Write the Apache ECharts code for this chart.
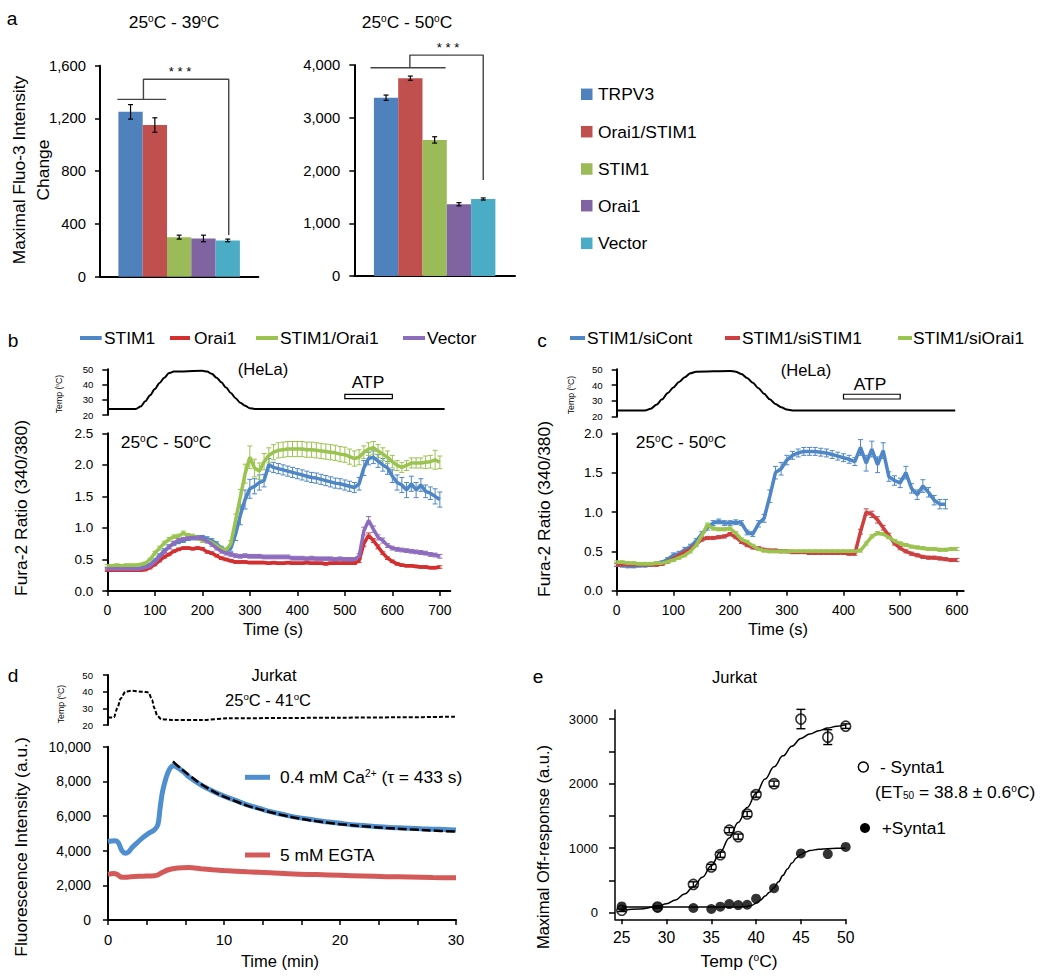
<!DOCTYPE html>
<html><head><meta charset="utf-8">
<script src="https://cdn.jsdelivr.net/npm/echarts@6/dist/echarts.min.js"></script>
<style>html,body{margin:0;padding:0;background:#fff}#c{width:1050px;height:979px}</style>
</head><body><div id="c"></div>
<script>
// ================= DATA =================
// panel a
const barSeriesNames = ['TRPV3','Orai1/STIM1','STIM1','Orai1','Vector'];
const bar39Values = [1250,1150,300,290,275];
const bar39Errors = [55,55,15,25,10];
const bar50Values = [3380,3750,2580,1360,1460];
const bar50Errors = [50,40,60,30,20];
const bar39Ticks = [0,400,800,1200,1600];
const bar50Ticks = [0,1000,2000,3000,4000];

// panel b (time in s)
const bTime = [0,10,20,30,40,50,60,70,80,90,100,110,120,130,140,150,160,170,180,190,200,210,220,230,240,250,260,270,280,290,300,310,320,330,340,350,360,370,380,390,400,410,420,430,440,450,460,470,480,490,500,510,520,530,540,550,560,570,580,590,600,610,620,630,640,650,660,670,680,690,700];
const bSTIM1 = [.35,.35,.35,.35,.35,.35,.35,.36,.38,.42, .48,.56,.64,.70,.75,.78,.80,.83,.84,.85, .85,.83,.80,.75,.68,.64,.68,.90,1.20,1.45, 1.62,1.66,1.72,1.75,2.00,1.96,1.94,1.92,1.90,1.88, 1.86,1.84,1.82,1.80,1.79,1.77,1.75,1.73,1.71,1.70, 1.68,1.66,1.64,1.70,1.95,2.10,2.12,2.06,2.00,1.95, 1.82,1.72,1.68,1.60,1.70,1.60,1.68,1.58,1.55,1.50, 1.45];
const bSTIM1Err = [.02,.02,.02,.02,.02,.02,.02,.02,.02,.02, .03,.03,.03,.03,.03,.03,.03,.03,.03,.03, .03,.03,.03,.03,.03,.03,.05,.10,.15,.15, .15,.12,.12,.10,.10,.08,.08,.08,.08,.08, .08,.08,.08,.08,.08,.08,.08,.08,.08,.08, .08,.08,.08,.10,.12,.10,.10,.10,.10,.10, .10,.12,.12,.12,.12,.12,.10,.10,.10,.12, .12];
const bOrai1 = [.33,.33,.33,.33,.33,.33,.33,.33,.34,.37, .42,.48,.54,.58,.63,.66,.68,.68,.67,.68, .67,.62,.60,.56,.52,.50,.48,.46,.46,.46, .45,.45,.45,.45,.44,.45,.44,.44,.45,.44, .44,.44,.45,.44,.44,.44,.43,.44,.44,.44, .44,.44,.44,.48,.75,.88,.80,.70,.60,.52, .47,.43,.41,.40,.40,.39,.38,.38,.37,.37, .38];
const bOrai1Err = [.02,.02,.02,.02,.02,.02,.02,.02,.02,.02, .02,.02,.02,.02,.02,.02,.02,.02,.02,.02, .02,.02,.02,.02,.02,.02,.02,.02,.02,.02, .02,.02,.02,.02,.02,.02,.02,.02,.02,.02, .02,.02,.02,.02,.02,.02,.02,.02,.02,.02, .02,.02,.02,.03,.04,.04,.03,.03,.02,.02, .02,.02,.02,.02,.02,.02,.02,.02,.02,.02, .02];
const bSTIM1Orai1 = [.40,.40,.41,.40,.41,.41,.41,.42,.44,.50, .60,.68,.76,.82,.86,.87,.92,.88,.87,.84, .80,.80,.77,.72,.67,.65,.75,1.12,1.49,1.86, 2.12,1.95,1.90,2.05,2.15,2.20,2.23,2.24,2.25,2.25, 2.25,2.25,2.24,2.24,2.23,2.22,2.21,2.20,2.19,2.17, 2.16,2.13,2.10,2.12,2.20,2.25,2.27,2.22,2.17,2.12, 2.05,1.99,1.96,1.99,2.03,2.03,2.03,2.04,2.05,2.08, 2.04];
const bSTIM1Orai1Err = [.02,.02,.02,.02,.02,.02,.02,.02,.02,.02, .03,.03,.03,.03,.03,.03,.03,.03,.03,.03, .03,.03,.03,.03,.03,.03,.05,.10,.12,.15, .18,.14,.13,.13,.12,.12,.12,.12,.12,.12, .12,.12,.12,.12,.12,.12,.12,.12,.12,.12, .12,.12,.12,.12,.10,.10,.10,.10,.10,.10, .10,.08,.08,.08,.08,.08,.08,.10,.10,.15, .10];
const bVector = [.35,.35,.35,.35,.35,.35,.35,.35,.37,.40, .46,.54,.62,.70,.76,.80,.82,.84,.85,.84, .83,.79,.74,.68,.63,.60,.58,.56,.55,.56, .55,.55,.55,.54,.54,.54,.54,.54,.54,.52, .52,.52,.51,.52,.51,.51,.51,.51,.50,.51, .50,.50,.50,.55,.95,1.12,.98,.85,.80,.72, .68,.66,.65,.64,.63,.62,.61,.60,.58,.57, .55];
const bVectorErr = [.02,.02,.02,.02,.02,.02,.02,.02,.02,.02, .03,.03,.03,.03,.03,.03,.03,.03,.03,.03, .03,.03,.03,.03,.03,.03,.03,.03,.03,.03, .03,.03,.03,.03,.03,.03,.03,.03,.03,.03, .03,.03,.03,.03,.03,.03,.03,.03,.03,.03, .03,.03,.03,.04,.06,.06,.05,.04,.04,.03, .03,.03,.03,.03,.03,.03,.03,.03,.03,.03, .03];
const bTempTime = [0,60,70,80,90,100,110,120,130,140,200,210,220,230,240,250,260,270,280,290,300,310,710];
const bTemp = [24,24,25.5,29,33,37,41,44.5,47.5,48.5,49,48.5,47,44.5,41.5,38,34.5,31,28,26,24.5,24,24];
const bATP = [500,600,30.7,33.6];
const bXTicks = [0,100,200,300,400,500,600,700];

// panel c
const cTime = [0,10,20,30,40,50,60,70,80,90,100,110,120,130,140,150,160,170,180,190,200,210,220,230,240,250,260,270,280,290,300,310,320,330,340,350,360,370,380,390,400,410,420,430,440,450,460,470,480,490,500,510,520,530,540,550,560,570,580,590,600];
const cSiCont = [.33,.32,.31,.31,.32,.32,.33,.34,.36,.40, .45,.47,.52,.56,.63,.72,.80,.86,.88,.86, .86,.87,.86,.74,.72,.85,.92,1.20,1.50,1.55, 1.66,1.72,1.75,1.77,1.77,1.77,1.76,1.75,1.73,1.71, 1.69,1.67,1.64,1.82,1.62,1.80,1.60,1.78,1.45,1.40, 1.37,1.50,1.30,1.22,1.33,1.25,1.15,1.10,1.10,null, null];
const cSiContErr = [.02,.02,.02,.02,.02,.02,.02,.02,.02,.02, .03,.03,.03,.03,.03,.03,.03,.03,.03,.03, .03,.03,.03,.03,.03,.04,.05,.08,.08,.08, .06,.05,.05,.05,.05,.05,.05,.05,.05,.05, .05,.05,.05,.10,.10,.10,.10,.10,.06,.06, .06,.08,.06,.06,.08,.06,.06,.06,.06,null, null];
const cSiSTIM1 = [.33,.33,.33,.33,.33,.33,.33,.33,.34,.37, .41,.45,.49,.53,.59,.65,.67,.67,.68,.69, .72,.68,.62,.58,.55,.54,.52,.51,.51,.50, .50,.49,.49,.49,.48,.48,.48,.48,.48,.48, .48,.47,.47,.75,1.00,.97,.90,.80,.70,.60, .54,.50,.47,.45,.43,.42,.42,.41,.40,.39, .39];
const cSiSTIM1Err = [.02,.02,.02,.02,.02,.02,.02,.02,.02,.02, .02,.02,.02,.02,.02,.02,.02,.02,.02,.02, .02,.02,.02,.02,.02,.02,.02,.02,.02,.02, .02,.02,.02,.02,.02,.02,.02,.02,.02,.02, .02,.02,.02,.03,.04,.04,.04,.03,.03,.02, .02,.02,.02,.02,.02,.02,.02,.02,.02,.02, .02];
const cSiOrai1 = [.36,.36,.35,.35,.34,.34,.34,.35,.35,.37, .39,.42,.45,.50,.58,.70,.84,.79,.78,.78, .79,.73,.65,.62,.57,.53,.51,.50,.50,.50, .50,.50,.50,.50,.50,.50,.50,.50,.50,.50, .50,.50,.50,.51,.60,.69,.73,.72,.68,.63, .60,.58,.56,.55,.54,.53,.53,.52,.52,.53, .53];
const cSiOrai1Err = [.02,.02,.02,.02,.02,.02,.02,.02,.02,.02, .02,.02,.02,.02,.02,.02,.02,.02,.02,.02, .02,.02,.02,.02,.02,.02,.02,.02,.02,.02, .02,.02,.02,.02,.02,.02,.02,.02,.02,.02, .02,.02,.02,.02,.02,.02,.02,.02,.02,.02, .02,.02,.02,.02,.02,.02,.02,.02,.02,.02, .02];
const cTempTime = [0,50,60,70,80,90,100,110,120,130,140,200,210,220,230,240,250,260,270,280,290,300,310,597];
const cTemp = [24,24,25,27.5,31,35,38.5,42,45,47.5,48.5,49,48.5,47,44.5,41.5,38,34.5,31,28,26,24.5,24,24];
const cATP = [400,500,31.2,34.2];
const cXTicks = [0,100,200,300,400,500,600];

// panel d (time in min)
const dCaTime = [0,0.3,0.6,0.9,1.2,1.5,1.8,2.1,2.5,3,3.5,4,4.3,4.5,4.7,5,5.3,5.6,6,6.5,7,8,9,10,11,12,13,14,15,16,17,18,19,20,21,22,23,24,25,26,27,28,29,30];
const dCa = [4520,4560,4580,4450,4000,3850,3950,4200,4450,4750,5000,5200,5500,6500,7400,8200,8700,8900,8800,8550,8250,7800,7450,7150,6900,6650,6450,6250,6100,5950,5850,5750,5650,5580,5500,5450,5400,5350,5320,5290,5260,5240,5220,5200];
const dFitTime = [5.6,6,7,8,9,10,11,12,13,14,15,16,17,18,19,20,22,24,26,28,30];
const dFit = [9150,8900,8350,7850,7450,7120,6850,6600,6400,6220,6060,5920,5800,5700,5610,5530,5410,5310,5230,5160,5100];
const dEgtaTime = [0,0.5,0.8,1.1,1.5,2,3,4,4.3,4.7,5.2,6,7,8,9,10,12,14,16,18,20,22,24,26,28,30];
const dEgta = [2640,2680,2620,2480,2460,2500,2530,2560,2600,2750,2900,3000,3030,2960,2900,2850,2780,2720,2650,2620,2580,2540,2500,2480,2450,2440];
const dTempTime = [0,0.5,0.8,1.1,1.5,2,3,3.5,3.8,4,4.25,4.6,5.5,8,10.4,15,20,25,30];
const dTemp = [24.5,24.5,30,36,40,40.5,40,39.5,35,30,25.5,23.5,23,23,24,24.2,24.4,24.6,25];
const dXTicks = [0,10/3,20/3,10,40/3,50/3,20,70/3,80/3,30];
const dXLabels = [0,10,20,30];

// panel e
const eTemps = [25,29,33,35,36,37,38,39,40,42,45,48,50];
const eControl = [40,90,440,710,900,1280,1180,1530,1830,2000,3000,2720,2890];
const eControlErr = [20,20,40,40,40,40,40,40,40,40,150,115,35];
const eSynta = [100,85,75,60,95,135,120,125,220,380,920,910,1020];
const eFitTemps = [25,27,29,30,31,32,33,34,35,36,37,38,39,40,41,42,43,44,45,46,47,48,49,50];
const eControlFit = [40,60,100,140,200,290,400,550,730,940,1160,1400,1630,1850,2070,2260,2430,2580,2700,2770,2820,2860,2890,2910];
const eSyntaFitTemps = [25,30,35,38,39,39.5,40,40.5,41,41.5,42,42.5,43,43.5,44,44.5,45,45.5,46,47,48,49,50];
const eSyntaFit = [90,90,90,92,100,115,150,200,260,320,390,480,580,680,770,850,905,940,965,985,993,998,1000];
const eXTicks = [25,30,35,40,45,50];
const eYTicks = [0,500,1000,1500,2000,2500,3000];
const eYLabels = [0,1000,2000,3000];

// ================= STYLE =================
function hasFont(name){
  const c = document.createElement('canvas').getContext('2d');
  const s = 'abcdefghijklmnopqrstuvwxyz0123456789ABCDEFGHIJ';
  c.font = '40px monospace'; const w0 = c.measureText(s).width;
  c.font = "40px '" + name + "', monospace"; return Math.abs(c.measureText(s).width - w0) > 0.5;
}
const NARROW = hasFont('Liberation Sans Narrow');
const FF = NARROW ? "'Liberation Sans Narrow','Liberation Sans',Arial,sans-serif" : "'Liberation Sans',Arial,sans-serif";
const K = NARROW ? 1 : 0.87;
function fs(n){ return Math.round(n*K*10)/10; }

const barColors = ['#4F81BD','#C0504D','#9BBB59','#8064A2','#4BACC6'];
const bColors = {stim1:'#4f86c6', orai1:'#d32f2f', both:'#9bc350', vector:'#8d6cbe'};
const cColors = {cont:'#4f86c6', sistim:'#cc4040', siorai:'#9bc350'};
const dColors = {ca:'#4f8fd0', egta:'#d45a5a'};

const zip = (xs, ys) => xs.map((x,i)=>[x, ys[i]]).filter(p=>p[1]!=null);
const zip3 = (xs, ys, es) => xs.map((x,i)=>[x, ys[i], es[i]]).filter(p=>p[1]!=null);
const BAR0 = 2; // bar i is drawn at x = i + BAR0 on the hidden-tick value axis of panel a

const axLine = (w) => ({show:true, onZero:false, lineStyle:{color:'#000', width:w||2}});
function yAx(o){
  return Object.assign({type:'value', position:'left', splitLine:{show:false}, axisLine:axLine(2),
    axisTick:{show:true, inside:false, length:5, lineStyle:{color:'#000', width:1.5}},
    axisLabel:{show:true, color:'#000', fontFamily:FF, fontSize:fs(o.fsz||15), margin:o.margin||14, formatter:o.fmt || (v=>String(v))}}, o.base);
}

function errSeries(xi, yi, data, color, cap, width, z){
  return {type:'custom', xAxisIndex:xi, yAxisIndex:yi, data:data.map(d=>[d[0], d[1]]), silent:true, clip:false, z:z||2,
    renderItem:(p, api)=>{
      const d = data[p.dataIndex];
      const t = api.coord([d[0], d[1]+d[2]]), b = api.coord([d[0], d[1]-d[2]]);
      const st = {stroke:color, lineWidth:width};
      return {type:'group', children:[
        {type:'line', shape:{x1:t[0], y1:t[1], x2:b[0], y2:b[1]}, style:st},
        {type:'line', shape:{x1:t[0]-cap, y1:t[1], x2:t[0]+cap, y2:t[1]}, style:st},
        {type:'line', shape:{x1:b[0]-cap, y1:b[1], x2:b[0]+cap, y2:b[1]}, style:st}
      ]};
    }};
}
function lineSeries(xi, yi, data, color, width, extra){
  return Object.assign({type:'line', xAxisIndex:xi, yAxisIndex:yi, data, symbol:'none', showSymbol:false,
    lineStyle:{color, width}, itemStyle:{color}, silent:true, z:3}, extra||{});
}
function boxSeries(xi, yi, box){
  return {type:'custom', xAxisIndex:xi, yAxisIndex:yi, data:[[box[0], box[2]]], silent:true, clip:false, z:4,
    renderItem:(p, api)=>{
      const a = api.coord([box[0], box[3]]), b = api.coord([box[1], box[2]]);
      return {type:'rect', shape:{x:a[0], y:a[1], width:b[0]-a[0], height:b[1]-a[1]}, style:{fill:'#fff', stroke:'#000', lineWidth:1.2}};
    }};
}

// ================= AXES / GRIDS =================
const grids = [
  {left:100, top:65.7, width:158.3, height:211},      // 0 a-left
  {left:354.3, top:65, width:160.7, height:211},      // 1 a-right
  {left:107.3, top:369.3, width:343, height:45.7},    // 2 b-temp
  {left:107.3, top:433.3, width:343, height:157.7},   // 3 b-main
  {left:616.7, top:369.3, width:347, height:47.4},    // 4 c-temp
  {left:616.7, top:433.3, width:347, height:157.4},   // 5 c-main
  {left:108, top:675, width:348, height:50},          // 6 d-temp
  {left:108, top:746.7, width:348, height:173.3},     // 7 d-main
  {left:615, top:710, width:230.7, height:209.3}      // 8 e
].map(g=>Object.assign({containLabel:false, outerBoundsMode:'none'}, g));

const barXAxis = (gi, min, max) => ({gridIndex:gi, type:'value', min, max, splitLine:{show:false}, axisLine:axLine(2), axisTick:{show:false}, axisLabel:{show:false}});
const xAxes = [
  barXAxis(0, BAR0-1.257, BAR0+5.257),
  barXAxis(1, BAR0-1.307, BAR0+5.307),
  {gridIndex:2, type:'value', min:0, max:722, show:false},
  {gridIndex:3, type:'value', min:0, max:722, splitLine:{show:false}, axisLine:axLine(2),
    axisTick:{show:true, length:5, lineStyle:{color:'#000', width:1.5}, customValues:bXTicks},
    axisLabel:{color:'#000', fontFamily:FF, fontSize:fs(16), margin:12, customValues:bXTicks}},
  {gridIndex:4, type:'value', min:0, max:612, show:false},
  {gridIndex:5, type:'value', min:0, max:612, splitLine:{show:false}, axisLine:axLine(2),
    axisTick:{show:true, length:5, lineStyle:{color:'#000', width:1.5}, customValues:cXTicks},
    axisLabel:{color:'#000', fontFamily:FF, fontSize:fs(16), margin:12, customValues:cXTicks}},
  {gridIndex:6, type:'value', min:0, max:30, show:false},
  {gridIndex:7, type:'value', min:0, max:30, splitLine:{show:false}, axisLine:axLine(2),
    axisTick:{show:true, length:5, lineStyle:{color:'#000', width:1.5}, customValues:dXTicks},
    axisLabel:{color:'#000', fontFamily:FF, fontSize:fs(17), margin:12, customValues:dXLabels, formatter:v=>String(Math.round(v))}},
  {gridIndex:8, type:'value', min:24.25, max:50, splitLine:{show:false}, axisLine:axLine(1.5),
    axisTick:{show:true, length:5, lineStyle:{color:'#000', width:1.5}, customValues:eXTicks},
    axisLabel:{color:'#000', fontFamily:FF, fontSize:fs(18), margin:10, customValues:eXTicks, formatter:v=>String(v)}}
];
const comma = v => Number(v).toLocaleString('en-US');
const yAxes = [
  yAx({base:{gridIndex:0, min:0, max:1600, interval:400}, fsz:17, margin:14, fmt:comma}),
  yAx({base:{gridIndex:1, min:0, max:4000, interval:1000}, fsz:17, margin:14, fmt:comma}),
  yAx({base:{gridIndex:2, min:20, max:50, interval:10}, fsz:11, margin:14}),
  yAx({base:{gridIndex:3, min:0, max:2.5, interval:0.5}, fsz:15.5, margin:14, fmt:v=>v.toFixed(1)}),
  yAx({base:{gridIndex:4, min:20, max:50, interval:10}, fsz:11, margin:14}),
  yAx({base:{gridIndex:5, min:0, max:2.0, interval:0.5}, fsz:15.5, margin:14, fmt:v=>v.toFixed(1)}),
  yAx({base:{gridIndex:6, min:20, max:50, interval:10}, fsz:11, margin:15}),
  yAx({base:{gridIndex:7, min:0, max:10000, interval:2000}, fsz:16, margin:17, fmt:comma}),
  Object.assign(yAx({base:{gridIndex:8, min:-100, max:3140}, fsz:15, margin:17}), {
    axisLine:axLine(1.5),
    axisTick:{show:true, length:6, lineStyle:{color:'#000', width:1.5}, customValues:eYTicks},
    axisLabel:{color:'#000', fontFamily:FF, fontSize:fs(15), margin:17, customValues:eYLabels, formatter:v=>String(v)}})
];

// ================= SERIES =================
const series = [];
// a : one bar series per panel, bar i centred at x = i + BAR0
const barItems = vals => vals.map((v,i)=>({name:barSeriesNames[i], value:[i+BAR0, v], itemStyle:{color:barColors[i]}}));
series.push({type:'bar', name:'25-39', xAxisIndex:0, yAxisIndex:0, data:barItems(bar39Values), barWidth:24.3, silent:true, z:2});
series.push({type:'bar', name:'25-50', xAxisIndex:1, yAxisIndex:1, data:barItems(bar50Values), barWidth:24.3, silent:true, z:2});
series.push(errSeries(0, 0, bar39Values.map((v,i)=>[i+BAR0, v, bar39Errors[i]]), '#000', 2.5, 1.2, 5));
series.push(errSeries(1, 1, bar50Values.map((v,i)=>[i+BAR0, v, bar50Errors[i]]), '#000', 2.5, 1.2, 5));
series.push(lineSeries(0, 0, [[BAR0-0.54,1345],[BAR0+1.46,1345]], '#444', 1.4, {clip:false}));
series.push(lineSeries(0, 0, [[BAR0+0.53,1345],[BAR0+0.53,1497],[BAR0+4.04,1497],[BAR0+4.04,316]], '#444', 1.4, {clip:false}));
series.push(lineSeries(1, 1, [[BAR0-0.64,3947],[BAR0+2.45,3947]], '#444', 1.4, {clip:false}));
series.push(lineSeries(1, 1, [[BAR0+0.98,3947],[BAR0+0.98,4188],[BAR0+4.0,4188],[BAR0+4.0,1822]], '#444', 1.4, {clip:false}));

// b
const tempStyle = {smooth:0.3, smoothMonotone:'x'};
series.push(lineSeries(2, 2, zip(bTempTime, bTemp), '#000', 2, tempStyle));
series.push(boxSeries(2, 2, bATP));
[[bSTIM1, bSTIM1Err, bColors.stim1],[bOrai1, bOrai1Err, bColors.orai1],[bSTIM1Orai1, bSTIM1Orai1Err, bColors.both],[bVector, bVectorErr, bColors.vector]].forEach(([v,e,c])=>{
  series.push(errSeries(3, 3, zip3(bTime, v, e), c, 2.5, 1, 2));
  series.push(lineSeries(3, 3, zip(bTime, v), c, 3.5));
});
// c
series.push(lineSeries(4, 4, zip(cTempTime, cTemp), '#000', 2, tempStyle));
series.push(boxSeries(4, 4, cATP));
[[cSiCont, cSiContErr, cColors.cont],[cSiSTIM1, cSiSTIM1Err, cColors.sistim],[cSiOrai1, cSiOrai1Err, cColors.siorai]].forEach(([v,e,c])=>{
  series.push(errSeries(5, 5, zip3(cTime, v, e), c, 2.5, 1, 2));
  series.push(lineSeries(5, 5, zip(cTime, v), c, 3.5));
});
// d
series.push(lineSeries(6, 6, zip(dTempTime, dTemp), '#000', 2, {smooth:0.3, smoothMonotone:'x', lineStyle:{color:'#000', width:2, type:[4,2]}}));
series.push(lineSeries(7, 7, zip(dCaTime, dCa), dColors.ca, 5, {smooth:0.3}));
series.push(lineSeries(7, 7, zip(dEgtaTime, dEgta), dColors.egta, 5, {smooth:0.3}));
series.push(lineSeries(7, 7, zip(dFitTime, dFit), '#000', 2.5, {smooth:0.4, z:4, lineStyle:{color:'#000', width:2.5, type:[9,3]}}));
// e
series.push(lineSeries(8, 8, zip(eFitTemps, eControlFit), '#000', 1.5, {smooth:0.4, smoothMonotone:'x'}));
series.push(lineSeries(8, 8, zip(eSyntaFitTemps, eSyntaFit), '#000', 1.5, {smooth:0.4, smoothMonotone:'x'}));
series.push({type:'scatter', xAxisIndex:8, yAxisIndex:8, data:zip(eTemps, eSynta), symbol:'circle', symbolSize:10, itemStyle:{color:'#000'}, silent:true, z:5});
series.push({type:'scatter', xAxisIndex:8, yAxisIndex:8, data:zip(eTemps, eControl), symbol:'circle', symbolSize:10, itemStyle:{color:'rgba(255,255,255,0)', borderColor:'#000', borderWidth:1.6}, silent:true, z:6});
series.push(errSeries(8, 8, zip3(eTemps, eControl, eControlErr), '#000', 4.5, 1.4, 7));

// ================= TEXT / LEGENDS (graphic) =================
const supRich = size => ({s:{fontSize:fs(size*0.58), fontFamily:FF, fill:'#000', verticalAlign:'top'},
                          b:{fontSize:fs(size*0.58), fontFamily:FF, fill:'#000', verticalAlign:'bottom'}});
function T(x, y, text, size, o){
  o = o || {};
  return {type:'text', x, y, rotation:o.rot||0, z:100, silent:true,
    style:{text, fontSize:fs(size), fontFamily:FF, fill:'#000', align:o.align||'center', verticalAlign:'middle',
      textAlign:o.align||'center', textVerticalAlign:'middle', rich:supRich(size)}};
}
const R90 = Math.PI/2;
function L(x1, x2, y, color, w){ return {type:'line', z:100, silent:true, shape:{x1, y1:y, x2, y2:y}, style:{stroke:color, lineWidth:w}}; }
const G = [];
// a
G.push(T(12, 18, 'a', 22));
G.push(T(174, 22, '25{s|o}C - 39{s|o}C', 20));
G.push(T(407, 22, '25{s|o}C - 50{s|o}C', 20));
G.push(T(19, 170, 'Maximal Fluo-3 Intensity', 20, {rot:R90}));
G.push(T(43, 170, 'Change', 20, {rot:R90}));
G.push(T(180, 71, '* * *', 15));
G.push(T(448, 47, '* * *', 15));
const aLegY = [94.3, 131.7, 169, 205.7, 243.3];
barSeriesNames.forEach((n,i)=>{
  G.push({type:'rect', z:100, silent:true, shape:{x:581, y:aLegY[i]-5.75, width:11.5, height:11.5}, style:{fill:barColors[i]}});
  G.push(T(598, aLegY[i], n, 20, {align:'left'}));
});
// b
G.push(T(13, 340, 'b', 22));
[[80,101.7,104,'STIM1',bColors.stim1],[170,190,194,'Orai1',bColors.orai1],[256,278,280,'STIM1/Orai1',bColors.both],[403,425,427,'Vector',bColors.vector]].forEach(([a,b,t,n,c])=>{
  G.push(L(a, b, 338, c, 4)); G.push(T(t, 338, n, 20, {align:'left'}));
});
G.push(T(263, 369, '(HeLa)', 19));
G.push(T(368, 382, 'ATP', 20));
G.push(T(166, 442, '25{s|o}C - 50{s|o}C', 20));
G.push(T(59, 394, 'Temp ({s|o}C)', 10, {rot:R90}));
G.push(T(21, 508, 'Fura-2 Ratio (340/380)', 20, {rot:R90}));
G.push(T(273, 629, 'Time (s)', 19));
// c
G.push(T(542, 340, 'c', 22));
[[570,585,587,'STIM1/siCont',cColors.cont],[725,740,742,'STIM1/siSTIM1',cColors.sistim],[898,912,913,'STIM1/siOrai1',cColors.siorai]].forEach(([a,b,t,n,c])=>{
  G.push(L(a, b, 338, c, 4)); G.push(T(t, 338, n, 20, {align:'left'}));
});
G.push(T(806, 370, '(HeLa)', 19));
G.push(T(870, 383.5, 'ATP', 20));
G.push(T(681, 442, '25{s|o}C - 50{s|o}C', 20));
G.push(T(571, 395, 'Temp ({s|o}C)', 10, {rot:R90}));
G.push(T(544, 509, 'Fura-2 Ratio (340/380)', 20, {rot:R90}));
G.push(T(778, 629, 'Time (s)', 19));
// d
G.push(T(13, 675, 'd', 22));
G.push(T(274, 674.5, 'Jurkat', 19));
G.push(T(268, 700, '25{s|o}C - 41{s|o}C', 19));
G.push(T(61, 704, 'Temp ({s|o}C)', 10, {rot:R90}));
G.push(T(21, 847, 'Fluorescence Intensity (a.u.)', 20, {rot:R90}));
G.push(T(280, 961, 'Time (min)', 19));
G.push(L(245, 270, 777.3, dColors.ca, 5));
G.push(T(280, 777.3, '0.4 mM Ca{s|2+} (\u03c4 = 433 s)', 20, {align:'left'}));
G.push(L(245, 270, 855, dColors.egta, 5));
G.push(T(280, 855, '5 mM EGTA', 20, {align:'left'}));
// e
G.push(T(538, 676, 'e', 22));
G.push(T(734.5, 677, 'Jurkat', 19));
G.push(T(543, 847, 'Maximal Off-response (a.u.)', 19, {rot:R90}));
G.push(T(739, 961, 'Temp ({s|o}C)', 20));
G.push({type:'circle', z:100, silent:true, shape:{cx:863.3, cy:767, r:5}, style:{fill:'#fff', stroke:'#000', lineWidth:1.5}});
G.push(T(880, 767, '- Synta1', 20, {align:'left'}));
G.push(T(875, 792, '(ET{b|50} = 38.8 \u00b1 0.6{s|o}C)', 20, {align:'left'}));
G.push({type:'circle', z:100, silent:true, shape:{cx:865, cy:828, r:5}, style:{fill:'#000'}});
G.push(T(881.7, 828, '+Synta1', 20, {align:'left'}));

const option = {
  backgroundColor:'#fff',
  animation:false,
  textStyle:{fontFamily:FF},
  grid:grids, xAxis:xAxes, yAxis:yAxes, series,
  graphic:{elements:G}
};
const chart = echarts.init(document.getElementById('c'), null, {renderer:'svg', width:1050, height:979});
chart.setOption(option);
</script></body></html>
